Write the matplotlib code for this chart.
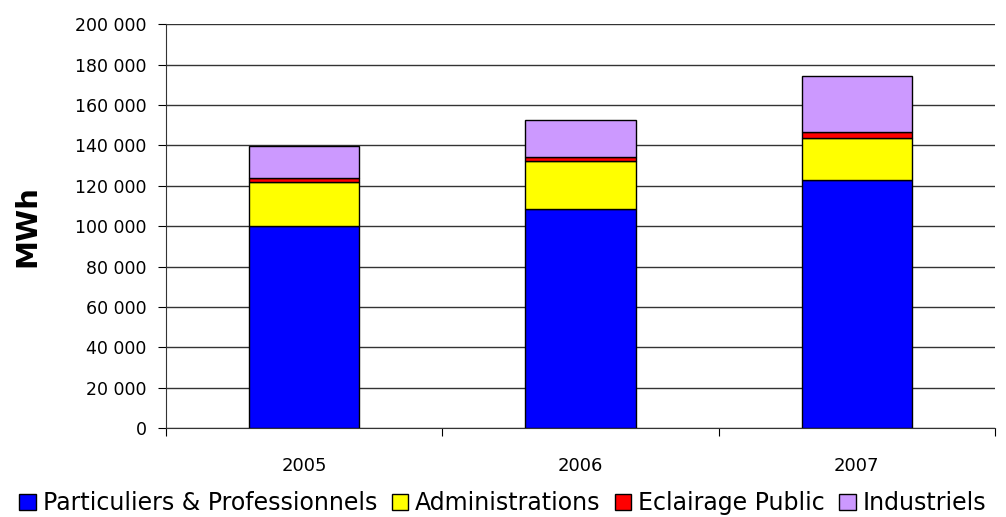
import matplotlib.pyplot as plt
from matplotlib.ticker import FuncFormatter

years = ['2005', '2006', '2007']
particuliers = [100000, 108600, 123000]
administrations = [21800, 23600, 20850]
eclairage = [2000, 2150, 2950]
industriels = [16050, 18000, 27600]

series = [
    ('Particuliers & Professionnels', particuliers, '#0000ff'),
    ('Administrations', administrations, '#ffff00'),
    ('Eclairage Public', eclairage, '#ff0000'),
    ('Industriels', industriels, '#cc99ff'),
]

fig = plt.figure(figsize=(10.06, 5.17), dpi=100)
ax = fig.add_axes([0.165, 0.172, 0.824, 0.781])

x = list(range(len(years)))
bottom = [0] * len(years)
for name, vals, col in series:
    ax.bar(x, vals, width=0.4, bottom=bottom, color=col, edgecolor='black',
           linewidth=1, label=name, zorder=3)
    bottom = [b + v for b, v in zip(bottom, vals)]

ax.set_ylim(0, 200000)
ax.set_yticks(range(0, 200001, 20000))
ax.yaxis.set_major_formatter(FuncFormatter(lambda v, p: f'{int(v):,}'.replace(',', ' ')))
ax.set_xlim(-0.5, 2.5)
ax.set_xticks([-0.5, 0.5, 1.5, 2.5])
ax.set_xticklabels([])
ax.set_xticks(x, minor=True)
ax.set_xticklabels(years, minor=True)
ax.tick_params(axis='x', which='minor', length=0, pad=21, labelsize=13)
ax.tick_params(axis='x', which='major', length=6, color='black')
ax.tick_params(axis='y', length=6, labelsize=12.5, pad=8)

ax.grid(axis='y', color='#333333', linewidth=1, zorder=0)
ax.spines['top'].set_visible(False)
ax.spines['right'].set_visible(False)
ax.spines['left'].set_color('#333333')
ax.spines['bottom'].set_color('#333333')

ax.set_ylabel('MWh', fontsize=21, fontweight='bold', labelpad=24)

fig.legend(loc='center', bbox_to_anchor=(0.5, 0.027), ncol=4, frameon=False,
           fontsize=17, handlelength=0.7, handleheight=0.7, handletextpad=0.3,
           columnspacing=0.6, borderpad=0, borderaxespad=0)

fig.savefig('out.png', dpi=100)
